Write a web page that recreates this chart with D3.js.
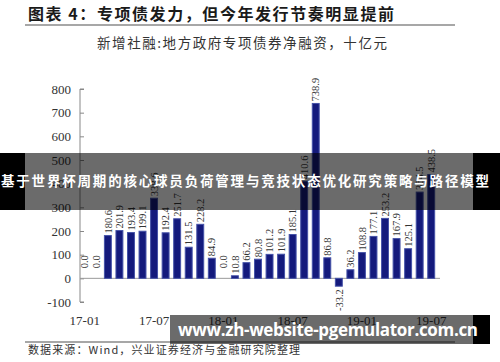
<!DOCTYPE html>
<html><head><meta charset="utf-8">
<script src="https://cdn.jsdelivr.net/npm/d3@7/dist/d3.min.js"></script>
<style>html,body{margin:0;padding:0;background:#fff;}svg{display:block;}</style>
</head><body>
<script>
const months = ["17-01","17-02","17-03","17-04","17-05","17-06","17-07","17-08","17-09","17-10","17-11","17-12",
"18-01","18-02","18-03","18-04","18-05","18-06","18-07","18-08","18-09","18-10","18-11","18-12",
"19-01","19-02","19-03","19-04","19-05","19-06","19-07"];
const values = [0.0,0.0,180.6,201.9,193.4,199.1,338.6,192.4,251.7,131.5,228.2,84.9,
0.0,10.8,66.2,80.8,101.2,101.9,185.1,410.6,738.9,86.8,-33.2,36.2,
108.8,177.1,253.2,167.9,125.1,364.5,438.5];
const tickLabels = ["17-01","17-07","18-01","18-07","19-01","19-07"];
const yTicks = [-100,0,100,200,300,400,500,600,700,800];
const titleText = "图表 4：专项债发力，但今年发行节奏明显提前";
const subtitleText = "新增社融:地方政府专项债券净融资，十亿元";
const sourceText = "数据来源：Wind，兴业证券经济与金融研究院整理";
const bannerText = "基于世界杯周期的核心球员负荷管理与竞技状态优化研究策略与路径模型";
const watermarkText = "www.zh-website-pgemulator.com.cn";

const W = 500, H = 362;
const svg = d3.select("body").append("svg").attr("width", W).attr("height", H);
const serif = "'Liberation Serif','DejaVu Serif',serif";
const cjk = "'Noto Sans CJK SC','Noto Sans',sans-serif";

// Title
svg.append("text").attr("x", 28).attr("y", 20).attr("font-family", cjk).attr("font-weight", 700)
  .attr("font-size", 16).attr("fill", "#1a1a1a").attr("textLength", 366).text(titleText);
svg.append("line").attr("x1", 25).attr("x2", 455).attr("y1", 25).attr("y2", 25)
  .attr("stroke", "#8a8a8a").attr("stroke-width", 1.5);
svg.append("text").attr("x", 242).attr("y", 48).attr("text-anchor", "middle").attr("font-family", cjk)
  .attr("font-size", 13.5).attr("fill", "#333").attr("textLength", 290).text(subtitleText);

const x = d3.scaleBand().domain(months).range([79, 437]).paddingInner(0.4).paddingOuter(0.2);
const y = d3.scaleLinear().domain([-100, 800]).range([302, 89]);

// Y axis
const yAxis = svg.append("g").attr("transform", "translate(80,0)")
  .call(d3.axisRight(y).tickValues(yTicks).tickSize(4).tickFormat(""));
yAxis.select(".domain").attr("stroke", "#888").attr("d", `M4,${y(800)}H0V${y(-100)}H4`);
yAxis.selectAll(".tick line").attr("stroke", "#888");
svg.append("g").selectAll("text").data(yTicks).join("text")
  .attr("x", 71).attr("y", d => y(d)).attr("dy", "0.35em").attr("text-anchor", "end")
  .attr("font-family", serif).attr("font-size", 13).attr("fill", "#333").text(d => d);

// zero line
svg.append("line").attr("x1", 80).attr("x2", 440).attr("y1", y(0)).attr("y2", y(0))
  .attr("stroke", "#999").attr("stroke-width", 1);

// Bars
svg.append("g").selectAll("rect").data(values).join("rect")
  .attr("x", (d, i) => x(months[i]))
  .attr("width", x.bandwidth())
  .attr("y", d => Math.min(y(d), y(0)))
  .attr("height", d => Math.abs(y(d) - y(0)))
  .attr("fill", "#141a7c").attr("stroke", "#4552a8").attr("stroke-width", 1);

// Bar labels
svg.append("g").selectAll("text").data(values).join("text")
  .attr("transform", (d, i) => {
    const cx = x(months[i]) + x.bandwidth() / 2;
    const cy = d >= 0 ? y(d) - (d === 0 ? 10 : 2) : y(d) + 3;
    return `translate(${cx},${cy}) rotate(-90)`;
  })
  .attr("dy", "0.35em").attr("text-anchor", d => d >= 0 ? "start" : "end")
  .attr("font-family", serif).attr("font-size", 10.5).attr("fill", "#333")
  .text(d => d.toFixed(1));

// X labels
svg.append("g").selectAll("text").data(tickLabels).join("text")
  .attr("x", d => x(d) + x.bandwidth() / 2).attr("y", 325).attr("text-anchor", "middle")
  .attr("font-family", serif).attr("font-size", 13).attr("fill", "#333").text(d => d);

// bottom rule & source
svg.append("line").attr("x1", 25).attr("x2", 455).attr("y1", 342).attr("y2", 342)
  .attr("stroke", "#8a8a8a").attr("stroke-width", 1.5);
svg.append("text").attr("x", 28).attr("y", 354).attr("font-family", cjk)
  .attr("font-size", 11).attr("fill", "#333").attr("textLength", 272).text(sourceText);

// Banner overlay
svg.append("rect").attr("x", 0).attr("y", 153).attr("width", 25).attr("height", 57).attr("fill", "#000");
svg.append("rect").attr("x", 25).attr("y", 153).attr("width", 448).attr("height", 57).attr("fill", "rgba(0,0,0,0.58)");
svg.append("rect").attr("x", 473).attr("y", 153).attr("width", 27).attr("height", 57).attr("fill", "#000");
svg.append("text").attr("x", 1).attr("y", 186).attr("font-family", cjk).attr("font-weight", 700)
  .attr("font-size", 13.5).attr("fill", "#fff").attr("textLength", 488).text(bannerText);

// Watermark
svg.append("rect").attr("x", 170).attr("y", 315).attr("width", 303).attr("height", 29).attr("fill", "rgba(0,0,0,0.58)");
svg.append("rect").attr("x", 473).attr("y", 315).attr("width", 17).attr("height", 29).attr("fill", "#000");
svg.append("text").attr("x", 178).attr("y", 336).attr("font-family", "'Open Sans','DejaVu Sans',sans-serif")
  .attr("font-weight", 700).attr("font-size", 17).attr("fill", "#fff").attr("textLength", 300).text(watermarkText);
</script>
</body></html>
